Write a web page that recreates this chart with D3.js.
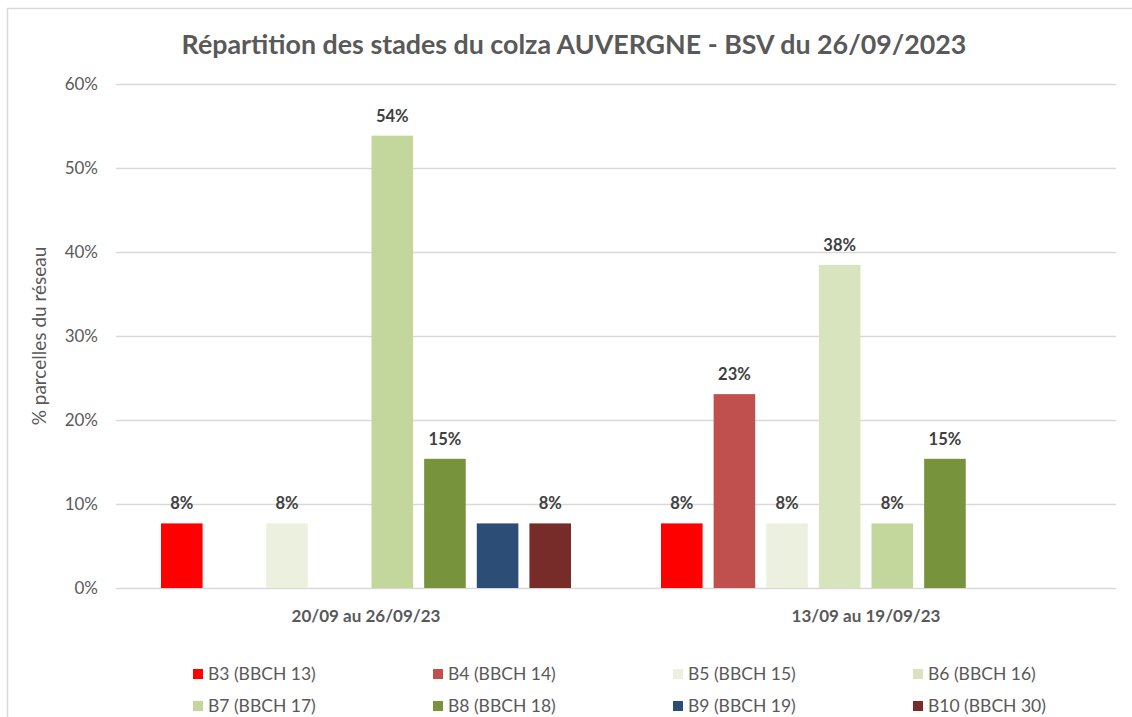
<!DOCTYPE html>
<html>
<head>
<meta charset="utf-8">
<script src="https://cdn.jsdelivr.net/npm/d3@7"></script>
<style>
  body { margin: 0; background: #fff; }
  svg { display: block; font-family: Lato, "Open Sans", sans-serif; }
</style>
</head>
<body>
<div id="chart"></div>
<script>
const title = "Répartition des stades du colza AUVERGNE - BSV du 26/09/2023";
const yTitle = "% parcelles du réseau";
const periods = ["20/09 au 26/09/23", "13/09 au 19/09/23"];
const stages = ["B3 (BBCH 13)", "B4 (BBCH 14)", "B5 (BBCH 15)", "B6 (BBCH 16)",
                "B7 (BBCH 17)", "B8 (BBCH 18)", "B9 (BBCH 19)", "B10 (BBCH 30)"];
const colors = ["#ff0000", "#c0504d", "#ebf1de", "#d7e4bd", "#c3d69b", "#77933c", "#2c4d75", "#772c2a"];
// share of plots per stage (fraction), one array per period
const period1 = [0.0769, 0, 0.0769, 0, 0.5385, 0.1538, 0.0769, 0.0769];
const period2 = [0.0769, 0.2308, 0.0769, 0.3846, 0.0769, 0.1538, 0, 0];
const yTicks = [0, 0.1, 0.2, 0.3, 0.4, 0.5, 0.6];
// labels that the original chart does not show
const hiddenLabels = [["20/09 au 26/09/23", "B9 (BBCH 19)"]];

const seriesByPeriod = [period1, period2];
const rows = [];
periods.forEach((p, i) => {
  stages.forEach((s, j) => rows.push({ period: p, stage: s, value: seriesByPeriod[i][j], color: colors[j] }));
});

const W = 1132, H = 717;
const margin = { top: 84, right: 16, bottom: 129, left: 116 };
const width = W - margin.left - margin.right;
const height = H - margin.top - margin.bottom;

const svg = d3.select("#chart").append("svg")
  .attr("width", W)
  .attr("height", H);

// chart frame
svg.append("rect")
  .attr("x", 7.5).attr("y", 8.5)
  .attr("width", W + 20).attr("height", H + 20)
  .attr("fill", "none")
  .attr("stroke", "#d9d9d9")
  .attr("stroke-width", 1.5);

svg.append("text")
  .attr("x", 574).attr("y", 54)
  .attr("text-anchor", "middle")
  .attr("font-size", 26.8)
  .attr("font-weight", "bold")
  .attr("fill", "#595959")
  .text(title);

const g = svg.append("g").attr("transform", `translate(${margin.left},${margin.top})`);

const x0 = d3.scaleBand().domain(periods).range([0, width]);
const x1 = d3.scaleBand().domain(stages)
  .range([x0.bandwidth() * 0.09, x0.bandwidth() * 0.91])
  .paddingInner(0.21);
const y = d3.scaleLinear().domain([0, 0.6]).range([height, 0]);

const yAxis = g.append("g")
  .call(d3.axisLeft(y).tickValues(yTicks).tickSize(-width).tickPadding(18).tickFormat(d3.format(".0%")));
yAxis.select(".domain").remove();
yAxis.selectAll("line").attr("stroke", "#d9d9d9").attr("stroke-width", 1.3);
yAxis.selectAll("text")
  .attr("font-size", 17)
  .attr("fill", "#595959")
  .attr("font-family", "Lato, sans-serif");

svg.append("text")
  .attr("transform", `translate(46,${margin.top + height / 2}) rotate(-90)`)
  .attr("text-anchor", "middle")
  .attr("font-size", 19)
  .attr("fill", "#595959")
  .text(yTitle);

const xAxis = g.append("g")
  .attr("transform", `translate(0,${height})`)
  .call(d3.axisBottom(x0).tickSize(0).tickPadding(22));
xAxis.select(".domain").remove();
xAxis.selectAll("text")
  .attr("font-size", 17)
  .attr("font-weight", "bold")
  .attr("fill", "#595959")
  .attr("font-family", "Lato, sans-serif");

const groups = g.selectAll(".period")
  .data(periods)
  .join("g")
  .attr("transform", d => `translate(${x0(d)},0)`);

groups.selectAll("rect")
  .data(p => rows.filter(r => r.period === p && r.value > 0))
  .join("rect")
  .attr("x", d => x1(d.stage))
  .attr("y", d => y(d.value))
  .attr("width", x1.bandwidth())
  .attr("height", d => y(0) - y(d.value))
  .attr("fill", d => d.color);

const isHidden = d => hiddenLabels.some(h => h[0] === d.period && h[1] === d.stage);

groups.selectAll(".lbl")
  .data(p => rows.filter(r => r.period === p && r.value > 0 && !isHidden(r)))
  .join("text")
  .attr("class", "lbl")
  .attr("x", d => x1(d.stage) + x1.bandwidth() / 2)
  .attr("y", d => y(d.value) - 14)
  .attr("text-anchor", "middle")
  .attr("font-size", 16.5)
  .attr("font-weight", "bold")
  .attr("fill", "#404040")
  .text(d => d3.format(".0%")(d.value));

// legend: 4 columns, 2 rows
const legend = svg.append("g");
const items = legend.selectAll("g")
  .data(stages)
  .join("g")
  .attr("transform", (d, i) => `translate(${193 + (i % 4) * 240},${669 + Math.floor(i / 4) * 32})`);
items.append("rect")
  .attr("width", 10).attr("height", 10)
  .attr("fill", (d, i) => colors[i]);
items.append("text")
  .attr("x", 15).attr("y", 10.5)
  .attr("font-size", 17.5)
  .attr("fill", "#595959")
  .text(d => d);
</script>
</body>
</html>
